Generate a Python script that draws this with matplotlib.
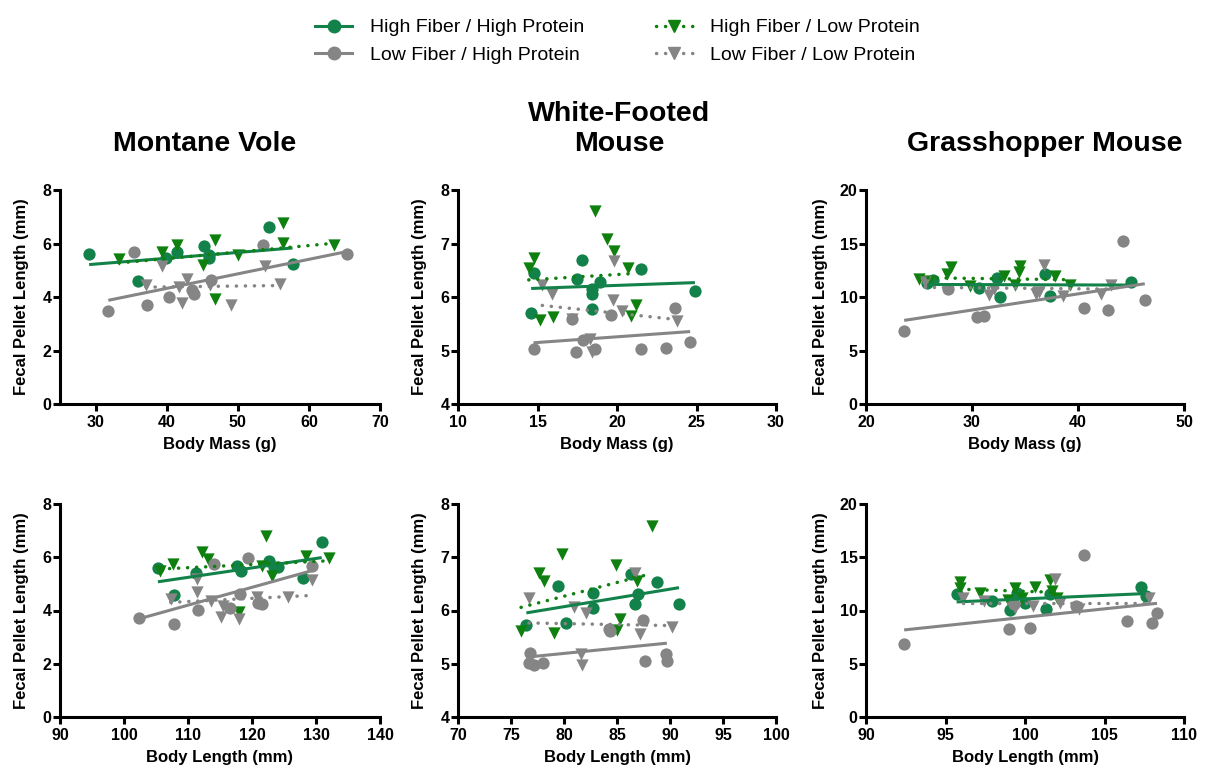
"""Fecal pellet length vs. body size for three rodent species across four diets."""

import matplotlib
matplotlib.use("Agg")

import matplotlib.pyplot as plt
import numpy as np
from matplotlib.lines import Line2D

plt.rcParams["font.family"] = ["Liberation Sans", "DejaVu Sans"]

GREEN_CIRCLE = "#13824a"
GREEN_TRIANGLE = "#0f800f"
GRAY = "#858585"

GROUPS = [
    "High Fiber / High Protein",
    "High Fiber / Low Protein",
    "Low Fiber / High Protein",
    "Low Fiber / Low Protein",
]

# --- Montane vole vs body mass (g) ---
vole_mass_hfhp_x = [29.1, 36.0, 39.9, 41.4, 45.2, 45.9, 46.0, 54.4, 57.7]
vole_mass_hfhp_y = [5.62, 4.60, 5.46, 5.70, 5.90, 5.58, 5.45, 6.62, 5.25]
vole_mass_hflp_x = [33.3, 39.4, 41.4, 45.1, 46.8, 50.0, 56.3, 56.4, 63.6, 46.8]
vole_mass_hflp_y = [5.43, 5.70, 5.93, 5.21, 6.14, 5.56, 6.01, 6.75, 5.93, 3.91]
vole_mass_lfhp_x = [31.8, 35.4, 37.3, 40.3, 43.6, 43.9, 46.2, 53.5, 65.3]
vole_mass_lfhp_y = [3.48, 5.70, 3.70, 4.01, 4.25, 4.10, 4.62, 5.95, 5.60]
vole_mass_lflp_x = [37.1, 39.4, 41.8, 42.1, 42.8, 46.1, 49.1, 53.8, 55.9]
vole_mass_lflp_y = [4.44, 5.17, 4.37, 3.79, 4.68, 4.43, 3.70, 5.15, 4.49]
vole_mass_slopes = [0.0217, 0.0244, 0.0543, 0.0032]
vole_mass_intercepts = [4.58, 4.46, 2.15, 4.25]

# --- White-footed mouse vs body mass (g) ---
wfm_mass_hfhp_x = [14.75, 14.6, 17.8, 17.5, 18.4, 18.4, 18.4, 18.9, 21.5, 24.9]
wfm_mass_hfhp_y = [6.45, 5.71, 6.69, 6.34, 6.05, 6.15, 5.77, 6.28, 6.52, 6.12]
wfm_mass_hflp_x = [14.45, 14.8, 15.15, 15.95, 18.6, 19.4, 19.8, 20.7, 20.9, 21.2]
wfm_mass_hflp_y = [6.54, 6.72, 5.57, 5.63, 7.61, 7.09, 6.86, 6.55, 5.64, 5.85]
wfm_mass_lfhp_x = [14.75, 17.2, 17.4, 17.85, 18.6, 19.65, 21.5, 23.1, 23.65, 24.6]
wfm_mass_lfhp_y = [5.02, 5.58, 4.97, 5.19, 5.02, 5.66, 5.03, 5.05, 5.80, 5.16]
wfm_mass_lflp_x = [15.3, 15.9, 17.2, 18.3, 18.4, 19.75, 19.8, 20.3, 23.8]
wfm_mass_lflp_y = [6.22, 6.05, 5.59, 5.22, 4.97, 5.94, 6.68, 5.73, 5.55]
wfm_mass_slopes = [0.0106, 0.018, 0.0213, -0.0312]
wfm_mass_intercepts = [6.005, 6.06, 4.83, 6.32]

# --- Grasshopper mouse vs body mass (g) ---
ghm_mass_hfhp_x = [25.8, 26.3, 30.7, 32.4, 32.6, 36.9, 37.4, 45.0]
ghm_mass_hfhp_y = [11.3, 11.55, 10.8, 11.74, 10.02, 12.15, 10.11, 11.37]
ghm_mass_hflp_x = [25.0, 25.9, 27.6, 28.0, 29.85, 33.0, 34.1, 34.4, 34.5, 37.8, 39.2]
ghm_mass_hflp_y = [11.68, 11.5, 12.15, 12.78, 11.05, 11.99, 11.11, 12.3, 12.87, 11.93, 11.11]
ghm_mass_lfhp_x = [23.6, 27.7, 30.5, 31.1, 40.6, 42.8, 44.2, 46.3]
ghm_mass_lfhp_y = [6.81, 10.74, 8.16, 8.23, 9.01, 8.79, 15.2, 9.73]
ghm_mass_lflp_x = [25.6, 31.6, 32.1, 36.0, 36.3, 36.8, 38.6, 42.2, 43.1]
ghm_mass_lflp_y = [11.37, 10.17, 10.74, 10.3, 10.45, 13.0, 10.11, 10.27, 11.11]
ghm_mass_slopes = [-0.003, -0.0134, 0.151, -0.009]
ghm_mass_intercepts = [11.25, 12.14, 4.25, 11.13]

# --- Montane vole vs body length (mm) ---
vole_len_hfhp_x = [105.3, 107.8, 111.3, 117.6, 118.3, 122.7, 123.4, 124.1, 128.0, 130.9]
vole_len_hfhp_y = [5.58, 4.58, 5.41, 5.68, 5.49, 5.87, 5.62, 5.62, 5.22, 6.59]
vole_len_hflp_x = [105.7, 107.7, 112.2, 113.1, 118.0, 121.5, 122.2, 123.1, 128.5, 132.0]
vole_len_hflp_y = [5.49, 5.74, 6.20, 5.93, 3.93, 5.68, 6.78, 5.31, 6.05, 5.97]
vole_len_lfhp_x = [102.3, 107.8, 111.6, 114.0, 116.5, 118.2, 119.4, 120.9, 121.5, 129.3]
vole_len_lfhp_y = [3.72, 3.50, 4.03, 5.74, 4.09, 4.62, 5.99, 4.28, 4.24, 5.66]
vole_len_lflp_x = [107.3, 111.4, 111.4, 113.6, 115.2, 115.4, 118.0, 120.8, 125.6, 129.4]
vole_len_lflp_y = [4.43, 5.18, 4.68, 4.37, 3.75, 4.18, 3.68, 4.49, 4.49, 5.16]
vole_len_slopes = [0.0355, 0.0118, 0.067, 0.0118]
vole_len_intercepts = [1.34, 4.31, -3.17, 3.04]

# --- White-footed mouse vs body length (mm) ---
wfm_len_hfhp_x = [76.45, 79.4, 80.2, 82.7, 82.75, 86.3, 86.7, 87.0, 88.8, 90.85]
wfm_len_hfhp_y = [5.72, 6.46, 5.77, 6.33, 6.04, 6.68, 6.12, 6.31, 6.53, 6.12]
wfm_len_hflp_x = [75.95, 77.6, 78.1, 79.1, 79.8, 84.9, 85.0, 85.3, 86.9, 88.3]
wfm_len_hflp_y = [5.62, 6.71, 6.55, 5.57, 7.07, 6.85, 5.64, 5.84, 6.56, 7.59]
wfm_len_lfhp_x = [76.8, 76.7, 77.2, 78.0, 84.2, 84.3, 87.45, 87.6, 89.65, 89.7]
wfm_len_lfhp_y = [5.21, 5.02, 4.98, 5.02, 5.65, 5.61, 5.82, 5.05, 5.18, 5.05]
wfm_len_lflp_x = [76.7, 80.9, 81.6, 81.7, 82.1, 86.7, 87.2, 90.2]
wfm_len_lflp_y = [6.24, 6.07, 5.19, 4.98, 5.96, 6.70, 5.55, 5.69]
wfm_len_slopes = [0.0329, 0.0516, 0.0198, -0.0037]
wfm_len_intercepts = [3.44, 2.14, 3.61, 6.05]

# --- Grasshopper mouse vs body length (mm) ---
ghm_len_hfhp_x = [95.7, 97.9, 99.07, 99.5, 100.0, 101.3, 101.6, 107.3, 107.6]
ghm_len_hfhp_y = [11.54, 10.91, 10.06, 11.6, 10.75, 10.13, 11.54, 12.16, 11.38]
ghm_len_hflp_x = [95.9, 95.9, 97.2, 98.9, 99.4, 99.8, 100.6, 101.6, 101.7, 102.0]
ghm_len_hflp_y = [12.63, 12.07, 11.6, 10.97, 12.07, 11.22, 12.23, 12.85, 11.85, 11.16]
ghm_len_lfhp_x = [92.4, 99.0, 99.3, 100.3, 103.2, 103.7, 106.4, 108.0, 108.3]
ghm_len_lfhp_y = [6.9, 8.24, 10.6, 8.31, 10.44, 15.2, 9.03, 8.81, 9.75]
ghm_len_lflp_x = [96.1, 97.4, 99.4, 100.5, 101.9, 102.2, 103.4, 107.8]
ghm_len_lflp_y = [11.22, 10.85, 10.28, 10.44, 13.0, 10.75, 10.13, 11.16]
ghm_len_slopes = [0.066, -0.049, 0.157, 0.0]
ghm_len_intercepts = [4.49, 16.7, -6.33, 10.75]

DOTTED = (0, (0.05, 2.55))

# marker, colour, line style, line width per diet group (same order as GROUPS)
STYLES = [
    ("o", GREEN_CIRCLE, "-", 2.2),
    ("v", GREEN_TRIANGLE, DOTTED, 2.5),
    ("o", GRAY, "-", 2.2),
    ("v", GRAY, DOTTED, 2.5),
]


def draw_panel(ax, series, slopes, intercepts):
    """Scatter each diet group and overlay its linear fit over the group's x range."""
    for (x, y), (marker, color, _, _) in zip(series, STYLES):
        ax.scatter(x, y, s=78, marker=marker, color=color, linewidths=0, zorder=3)
    for (x, _), (_, color, ls, lw), slope, icpt in zip(series, STYLES, slopes, intercepts):
        xs = np.array([min(x), max(x)])
        ax.plot(xs, slope * xs + icpt, color=color, ls=ls, lw=lw,
                dash_capstyle="round", solid_capstyle="butt", zorder=4)


def style_axes(ax, xlim, xticks, ylim, yticks, xlabel, ylabel_x):
    ax.set_xlim(*xlim)
    ax.set_ylim(*ylim)
    ax.set_xticks(xticks)
    ax.set_yticks(yticks)
    for side in ("top", "right"):
        ax.spines[side].set_visible(False)
    for side in ("left", "bottom"):
        ax.spines[side].set_linewidth(2.2)
    ax.tick_params(width=2.2, length=5, direction="out", labelsize=11.5)
    ax.tick_params(axis="y", pad=1)
    ax.tick_params(axis="x", pad=3)
    for lbl in ax.get_xticklabels() + ax.get_yticklabels():
        lbl.set_fontweight("bold")
    ax.set_xlabel(xlabel, fontsize=12, fontweight="bold", labelpad=5)
    ax.set_ylabel("Fecal Pellet Length (mm)", fontsize=12, fontweight="bold")
    ax.yaxis.set_label_coords(ylabel_x, 0.5)


fig = plt.figure(figsize=(12.05, 7.76), dpi=100)

col_x = [60 / 1205, 458 / 1205, 866 / 1205]
col_w = [320 / 1205, 318 / 1205, 318 / 1205]
row_y = [1 - 404 / 776, 1 - 717 / 776]
row_h = [214 / 776, 213 / 776]

panels = [
    # (row, col, series, slopes, intercepts, xlim, xticks, ylim, yticks, xlabel, title, title_x)
    (0, 0,
     [(vole_mass_hfhp_x, vole_mass_hfhp_y), (vole_mass_hflp_x, vole_mass_hflp_y),
      (vole_mass_lfhp_x, vole_mass_lfhp_y), (vole_mass_lflp_x, vole_mass_lflp_y)],
     vole_mass_slopes, vole_mass_intercepts,
     (25, 70), [30, 40, 50, 60, 70], (0, 8), [0, 2, 4, 6, 8],
     "Body Mass (g)", "Montane Vole", 0.453),
    (0, 1,
     [(wfm_mass_hfhp_x, wfm_mass_hfhp_y), (wfm_mass_hflp_x, wfm_mass_hflp_y),
      (wfm_mass_lfhp_x, wfm_mass_lfhp_y), (wfm_mass_lflp_x, wfm_mass_lflp_y)],
     wfm_mass_slopes, wfm_mass_intercepts,
     (10, 30), [10, 15, 20, 25, 30], (4, 8), [4, 5, 6, 7, 8],
     "Body Mass (g)", "White-Footed\nMouse", 0.506),
    (0, 2,
     [(ghm_mass_hfhp_x, ghm_mass_hfhp_y), (ghm_mass_hflp_x, ghm_mass_hflp_y),
      (ghm_mass_lfhp_x, ghm_mass_lfhp_y), (ghm_mass_lflp_x, ghm_mass_lflp_y)],
     ghm_mass_slopes, ghm_mass_intercepts,
     (20, 50), [20, 30, 40, 50], (0, 20), [0, 5, 10, 15, 20],
     "Body Mass (g)", "Grasshopper Mouse", 0.563),
    (1, 0,
     [(vole_len_hfhp_x, vole_len_hfhp_y), (vole_len_hflp_x, vole_len_hflp_y),
      (vole_len_lfhp_x, vole_len_lfhp_y), (vole_len_lflp_x, vole_len_lflp_y)],
     vole_len_slopes, vole_len_intercepts,
     (90, 140), [90, 100, 110, 120, 130, 140], (0, 8), [0, 2, 4, 6, 8],
     "Body Length (mm)", None, None),
    (1, 1,
     [(wfm_len_hfhp_x, wfm_len_hfhp_y), (wfm_len_hflp_x, wfm_len_hflp_y),
      (wfm_len_lfhp_x, wfm_len_lfhp_y), (wfm_len_lflp_x, wfm_len_lflp_y)],
     wfm_len_slopes, wfm_len_intercepts,
     (70, 100), [70, 75, 80, 85, 90, 95, 100], (4, 8), [4, 5, 6, 7, 8],
     "Body Length (mm)", None, None),
    (1, 2,
     [(ghm_len_hfhp_x, ghm_len_hfhp_y), (ghm_len_hflp_x, ghm_len_hflp_y),
      (ghm_len_lfhp_x, ghm_len_lfhp_y), (ghm_len_lflp_x, ghm_len_lflp_y)],
     ghm_len_slopes, ghm_len_intercepts,
     (90, 110), [90, 95, 100, 105, 110], (0, 20), [0, 5, 10, 15, 20],
     "Body Length (mm)", None, None),
]

ylabel_offsets = [-0.097, -0.097, -0.12]

for (row, col, series, slopes, intercepts, xlim, xticks, ylim, yticks,
     xlabel, title, title_x) in panels:
    ax = fig.add_axes([col_x[col], row_y[row], col_w[col], row_h[row]])
    draw_panel(ax, series, slopes, intercepts)
    style_axes(ax, xlim, xticks, ylim, yticks, xlabel, ylabel_offsets[col])
    if title:
        ax.set_title(title, fontsize=20.5, fontweight="bold", x=title_x, pad=28)

handles = [
    Line2D([], [], color=color, ls=ls, lw=lw, marker=marker, markersize=9,
           dash_capstyle="round")
    for marker, color, ls, lw in STYLES
]
# two columns: high-protein groups on the left, low-protein groups on the right
order = [0, 2, 1, 3]
fig.legend([handles[i] for i in order], [GROUPS[i] for i in order],
           loc="upper center", bbox_to_anchor=(617.5 / 1205, 1 - 9 / 776),
           ncol=2, frameon=False, fontsize=14, borderpad=0,
           handlelength=1.9, handletextpad=0.9, columnspacing=3.7,
           labelspacing=0.5)

fig.savefig("out.png", dpi=100)
